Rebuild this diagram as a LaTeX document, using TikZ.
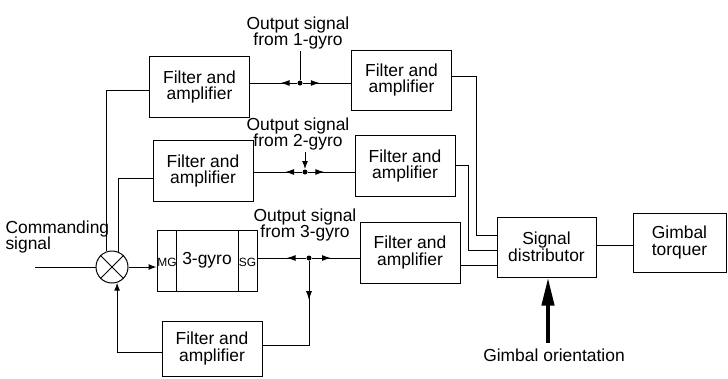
\documentclass[tikz,border=0pt]{standalone}
\usepackage{fontspec}
\setmainfont{Liberation Sans}
\usetikzlibrary{arrows.meta,positioning,decorations.markings}

\begin{document}
\begin{tikzpicture}[x=1bp,y=-1bp,line width=1bp,
  font=\fontsize{17.5}{17}\selectfont,
  fbox/.style={draw,minimum width=100bp,minimum height=61bp,align=center,inner sep=1bp},
  lab/.style={align=center,inner sep=1bp},
  dot/.style={circle,fill,inner sep=0pt,minimum size=5bp},
  tip/.style={-{Latex[length=8bp,width=6bp]}},
  midarr/.style={postaction={decorate},decoration={markings,
     mark=at position #1 with {\arrow{Latex[length=9bp,width=6bp]}}}}]
  \useasboundingbox (0,0) rectangle (728,378);
  % blocks
  \node[fbox] (FA1L) at (199.5,87) {Filter and\\amplifier};
  \node[fbox,minimum height=60bp] (FA1R) at (401.5,80) {Filter and\\amplifier};
  \node[fbox] (FA2L) at (203,171) {Filter and\\amplifier};
  \node[fbox] (FA2R) at (405,166) {Filter and\\amplifier};
  \node[fbox] (gyro) at (207,260.5) {3-gyro};
  \node[fbox] (FA3R) at (410,252.5) {Filter and\\amplifier};
  \node[fbox,minimum height=55bp] (FA4) at (212,348.5) {Filter and\\amplifier};
  \node[fbox,minimum width=99bp,minimum height=60bp] (SD) at (546.5,247) {Signal\\distributor};
  \node[fbox,minimum width=93bp,minimum height=59bp] (GT) at (679.5,242.5) {Gimbal\\torquer};
  \node[draw,circle,minimum size=32bp,inner sep=0pt] (sum) at (112,267) {};
  \draw ([xshift=20bp]gyro.north west) -- ([xshift=20bp]gyro.south west);
  \draw ([xshift=-19bp]gyro.north east) -- ([xshift=-19bp]gyro.south east);
  \node[font=\fontsize{12}{12}\selectfont,inner sep=0pt] (MG) at (167,262) {MG};
  \node[font=\fontsize{12}{12}\selectfont,inner sep=0pt] (SG) at (247.5,262) {SG};
  % labels and branch points
  \node[dot] (d1) at (300,83) {};
  \node[dot] (d2) at (305,172) {};
  \node[dot] (d3) at (309,258) {};
  \node[lab] (out1) at (298,33) {Output signal\\from 1-gyro};
  \node[lab] (out2) at (298,134) {Output signal\\from 2-gyro};
  \node[lab] (out3) at (305,225) {Output signal\\from 3-gyro};
  \node[align=left,inner sep=0pt,anchor=west] (cmdlab) at (5,237) {Commanding\\signal};
  \node[inner sep=0pt] (golab) at (554,355) {Gimbal orientation};
  \coordinate (cmd) at (35,267);
  \coordinate (go) at (548,343);
  % gyro outputs
  \draw[midarr=0.35] (d1) -- (FA1L.east |- d1);
  \draw[midarr=0.35] (d1) -- (FA1R.west |- d1);
  \draw (out1.south -| d1) -- (d1);
  \draw[midarr=0.35] (d2) -- (FA2L.east |- d2);
  \draw[midarr=0.35] (d2) -- (FA2R.west |- d2);
  \draw[tip] (out2.south -| d2) -- (d2);
  \draw[midarr=0.4] (d3) -- (gyro.east |- d3);
  \draw[midarr=0.4] (d3) -- (FA3R.west |- d3);
  \draw[midarr=0.3] (d3) |- (FA4.east |- 0,345);
  % feedback to the summing point
  \draw (FA1L.west |- 0,90) -| (sum.108);
  \draw (FA2L.west |- 0,178) -| (sum.68);
  \draw[tip] (FA4.west |- 0,352) -| (sum.-72);
  \draw (cmd) -- (sum.west);
  \draw[tip] (sum.east) -- (gyro.west |- sum.east);
  \draw (sum.45) -- (sum.225) (sum.135) -- (sum.-45);
  % to the distributor
  \draw (FA1R.east |- 0,76) -| (476,235) -- (SD.west |- 0,235);
  \draw (FA2R.east |- 0,165) -| (468,250) -- (SD.west |- 0,250);
  \draw (FA3R.east |- 0,265) -- (SD.west |- 0,265);
  \draw (SD.east |- 0,245) -- (GT.west |- 0,245);
  \draw[line width=4bp,-{Triangle[length=28bp,width=12bp]}] (go) -- (SD.south -| go);
\end{tikzpicture}
\end{document}
